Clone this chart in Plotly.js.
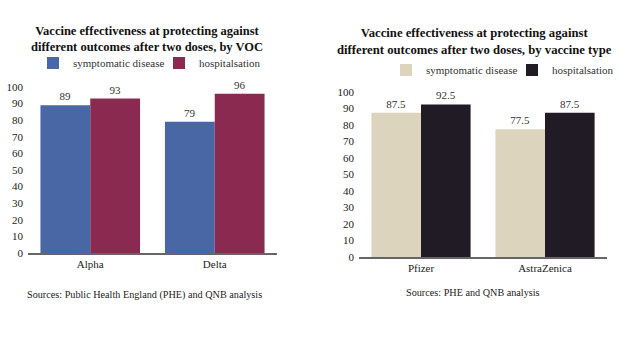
<!DOCTYPE html>
<html>
<head>
<meta charset="utf-8">
<script src="https://cdn.plot.ly/plotly-3.0.1.min.js"></script>
<style>html,body{margin:0;padding:0;background:#fff;}#chart{width:620px;height:355px;}</style>
</head>
<body>
<div id="chart"></div>
<script>
// Left chart: by VOC
const vocCategories = ["Alpha", "Delta"];
const vocSymptomatic = [89, 79];
const vocHospital = [93, 96];
// Right chart: by vaccine type
const vaxCategories = ["Pfizer", "AstraZenica"];
const vaxSymptomatic = [87.5, 77.5];
const vaxHospital = [92.5, 87.5];
const seriesNames = ["symptomatic disease", "hospitalsation"];
const yTicks = [0, 10, 20, 30, 40, 50, 60, 70, 80, 90, 100];

const F = "Liberation Serif";
const W = 620, H = 355;
const px = v => v / W, py = v => 1 - v / H;

const textFont = {family: F, size: 11, color: "#333"};
const traces = [
  {type: "bar", x: vocCategories, y: vocSymptomatic, name: seriesNames[0], marker: {color: "#4a67a5"},
   xaxis: "x", yaxis: "y", legend: "legend", text: vocSymptomatic.map(String), textposition: "outside",
   textfont: textFont, cliponaxis: false, hoverinfo: "skip"},
  {type: "bar", x: vocCategories, y: vocHospital, name: seriesNames[1], marker: {color: "#8b2a50"},
   xaxis: "x", yaxis: "y", legend: "legend", text: vocHospital.map(String), textposition: "outside",
   textfont: textFont, cliponaxis: false, hoverinfo: "skip"},
  {type: "bar", x: vaxCategories, y: vaxSymptomatic, name: seriesNames[0], marker: {color: "#ddd4be"},
   xaxis: "x2", yaxis: "y2", legend: "legend2", text: vaxSymptomatic.map(v => v.toFixed(1)), textposition: "outside",
   textfont: textFont, cliponaxis: false, hoverinfo: "skip"},
  {type: "bar", x: vaxCategories, y: vaxHospital, name: seriesNames[1], marker: {color: "#211b25"},
   xaxis: "x2", yaxis: "y2", legend: "legend2", text: vaxHospital.map(v => v.toFixed(1)), textposition: "outside",
   textfont: textFont, cliponaxis: false, hoverinfo: "skip"}
];

const xCommon = {showline: true, linecolor: "#666", linewidth: 1.5, ticks: "", showgrid: false, zeroline: false,
  tickfont: {family: F, size: 11, color: "#222"}, fixedrange: true, automargin: false};
const yCommon = {range: [0, 100], tickvals: yTicks, showline: false, showgrid: false, zeroline: false, ticks: "",
  tickfont: {family: F, size: 11, color: "#222"}, ticklabelstandoff: 4, fixedrange: true, automargin: false};

const legendCommon = {orientation: "h", yanchor: "middle", xanchor: "left",
  font: {family: F, size: 11, color: "#333"}, bgcolor: "rgba(0,0,0,0)", entrywidth: 81, itemclick: false};

const layout = {
  width: W, height: H,
  margin: {l: 0, r: 0, t: 0, b: 0, autoexpand: false},
  paper_bgcolor: "#fff", plot_bgcolor: "#fff",
  barmode: "group", bargap: 0.2, bargroupgap: 0,
  font: {family: F, color: "#222"},
  xaxis: Object.assign({}, xCommon, {domain: [px(28), px(277)], anchor: "y"}),
  yaxis: Object.assign({}, yCommon, {domain: [py(253), py(87)], anchor: "x"}),
  xaxis2: Object.assign({}, xCommon, {domain: [px(359), px(607)], anchor: "y2"}),
  yaxis2: Object.assign({}, yCommon, {domain: [py(257), py(92)], anchor: "x2"}),
  legend: Object.assign({}, legendCommon, {x: px(33), y: py(63)}),
  legend2: Object.assign({}, legendCommon, {x: px(386), y: py(70)}),
  annotations: [
    {text: "<b>Vaccine effectiveness at protecting against<br>different outcomes after two doses, by VOC</b>",
     xref: "paper", yref: "paper", x: px(147), y: py(39), xanchor: "center", yanchor: "middle", showarrow: false,
     font: {family: F, size: 12.5, color: "#111"}},
    {text: "<b>Vaccine effectiveness at protecting against<br>different outcomes after two doses, by vaccine type</b>",
     xref: "paper", yref: "paper", x: px(474), y: py(42), xanchor: "center", yanchor: "middle", showarrow: false,
     font: {family: F, size: 12.7, color: "#111"}},
    {text: "Sources: Public Health England (PHE) and QNB analysis",
     xref: "paper", yref: "paper", x: px(25), y: py(295), xanchor: "left", yanchor: "middle", showarrow: false,
     font: {family: F, size: 10.2, color: "#222"}},
    {text: "Sources: PHE and QNB analysis",
     xref: "paper", yref: "paper", x: px(473), y: py(292), xanchor: "center", yanchor: "middle", showarrow: false,
     font: {family: F, size: 10.2, color: "#222"}}
  ]
};

Plotly.newPlot("chart", traces, layout, {displayModeBar: false, staticPlot: true});
</script>
</body>
</html>
